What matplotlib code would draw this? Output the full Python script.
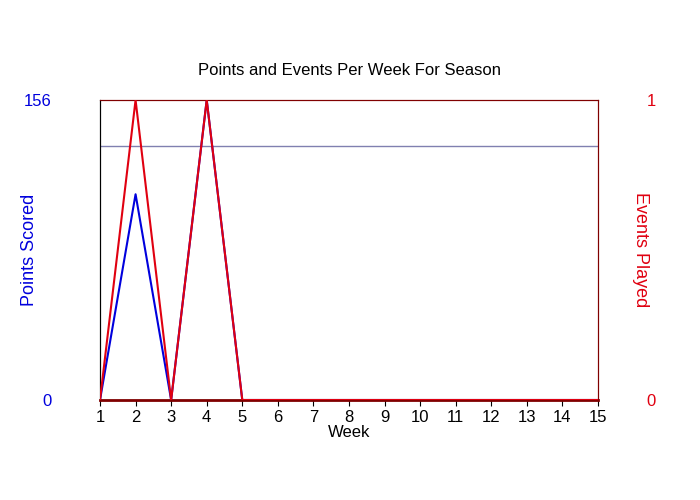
import matplotlib
matplotlib.use("Agg")
import matplotlib.pyplot as plt

weeks = list(range(1, 16))
points = [0, 107, 0, 156, 0, 0, 0, 0, 0, 0, 0, 0, 0, 0, 0]
events = [0, 1, 0, 1, 0, 0, 0, 0, 0, 0, 0, 0, 0, 0, 0]
ref_line = 132
pmax = 156

plt.rcParams['font.family'] = ['Liberation Sans', 'DejaVu Sans']
fig = plt.figure(figsize=(7, 5), dpi=100)
ax = fig.add_axes([100/700, 100/500, 498/700, 300/500])
ax.plot(weeks, points, color='#0000dd', lw=1.5, zorder=2)
ax.axhline(ref_line, color='#8080b0', lw=1, zorder=1)
ax.set_xlim(1, 15)
ax.set_ylim(0, pmax)
ax.set_xticks(weeks)
ax.set_yticks([0, pmax])
ax.tick_params(axis='x', labelsize=12, length=4)
ax.tick_params(axis='y', labelsize=12, colors='#0000dd', length=0, pad=35)
ax.set_xlabel('Week', fontsize=12, labelpad=0)
ax.set_ylabel('Points Scored', fontsize=13, color='#0000dd', labelpad=-10)
ax.set_title('Points and Events Per Week For Season', fontsize=12, pad=18)
ax2 = ax.twinx()
ax2.plot(weeks, events, color='#e00010', lw=1.5, zorder=3)
ax2.set_ylim(0, 1)
ax2.set_yticks([0, 1])
ax2.tick_params(axis='y', labelsize=12, colors='#e00010', length=0, pad=35)
ax2.set_ylabel('Events Played', fontsize=13, color='#e00010', rotation=270, labelpad=-5)
for a in (ax, ax2):
    a.spines['top'].set_color('#800000')
    a.spines['right'].set_color('#800000')
ax2.spines['bottom'].set_color('#800000')
ax2.spines['bottom'].set_linewidth(2)
fig.savefig('out.png')
